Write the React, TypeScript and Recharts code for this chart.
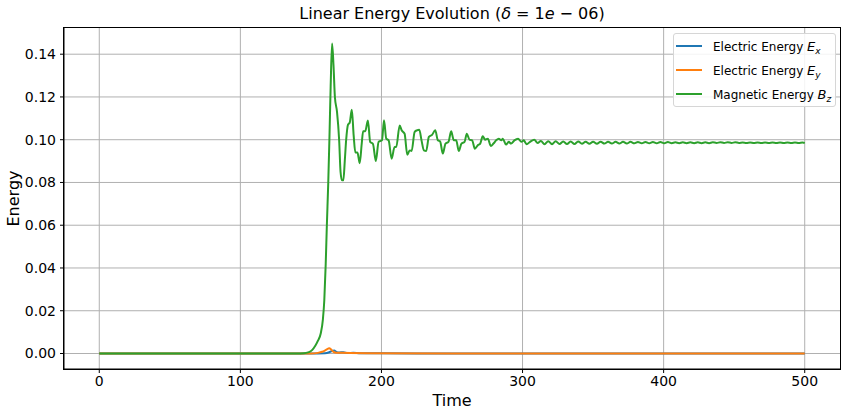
import { LineChart, Line, XAxis, YAxis, CartesianGrid, Label } from "recharts";

// Magnetic energy B_z (time, energy)
const bzTime = [
  0, 100, 140, 145, 148, 151, 153, 155, 157, 158.5, 159.5, 160.5, 161.3, 162.3, 163.1, 164, 165, 166, 167,
  168.5, 170, 171, 172, 173, 174, 175, 176.3, 177.5, 179, 180.3, 181.5, 183, 184.6, 186, 187, 188.5, 190.4,
  192, 194, 196, 198, 200.4, 201.8, 203.4, 205.1, 207.2, 209.3, 210.5, 212.9, 214.3, 216.4, 218.3, 220,
  221.4, 223.5, 225.1, 226.8, 228.4, 230.1, 231.7, 233.6, 236, 238.1, 240, 241.6, 243.5, 245.4, 247.5,
  249.4, 251.3, 253, 254.8, 256.7, 258.9, 260.5, 262.4, 264.3, 266.2, 268.3, 270, 271.8, 273.5, 275.4,
  277.5, 279.4, 281.3, 283.1, 285, 286, 288.3, 290.2, 291.9, 294.2, 296.8, 299.2, 300.8, 302.9, 305.3,
  308.3, 310.7, 313, 315.6, 318.2, 320.9, 323.5, 326.2, 328.8, 331.5, 334.1, 336.8, 339.4, 342.1, 344.7,
  347.4, 350, 352.7, 355.3, 358, 360.6, 363.3, 365.9, 368.6, 371.2, 373.9, 376.5, 379.2, 381.8, 384.5,
  387.1, 389.8, 392.4, 395.1, 397.7, 400.4, 403, 405.7, 408.3, 411, 413.6, 416.3, 418.9, 421.6, 424.2,
  426.9, 429.5, 432.2, 434.8, 437.5, 440.1, 442.8, 445.4, 448.1, 450.7, 453.4, 456, 458.7, 461.3, 464,
  466.6, 469.3, 471.9, 474.6, 477.2, 479.9, 482.5, 485.2, 487.8, 490.5, 493.1, 495.8, 498.4, 500,
];
const bzEnergy = [
  0, 0, 0, 0.0001, 0.0005, 0.0017, 0.0035, 0.006, 0.0095, 0.016, 0.025, 0.042, 0.06, 0.08, 0.1, 0.125,
  0.145, 0.135, 0.12, 0.113, 0.1, 0.085, 0.081, 0.081, 0.09, 0.1, 0.107, 0.108, 0.114, 0.102, 0.094, 0.094,
  0.089, 0.098, 0.104, 0.104, 0.109, 0.099, 0.098, 0.09, 0.099, 0.0997, 0.1091, 0.1005, 0.0997, 0.0911,
  0.0966, 0.0966, 0.1067, 0.1044, 0.1028, 0.093, 0.095, 0.0947, 0.1036, 0.1044, 0.1047, 0.0997, 0.095,
  0.0947, 0.1013, 0.1024, 0.1044, 0.0997, 0.0992, 0.0935, 0.0982, 0.099, 0.1039, 0.0997, 0.0997, 0.0947,
  0.0982, 0.099, 0.1028, 0.1, 0.0997, 0.0958, 0.0974, 0.0982, 0.1016, 0.1, 0.1005, 0.0971, 0.0982, 0.0997,
  0.1005, 0.0997, 0.1005, 0.0977, 0.099, 0.0982, 0.0997, 0.1005, 0.099, 0.0997, 0.0979, 0.099, 0.1,
  0.0985, 0.0994, 0.0979, 0.0993, 0.0979, 0.0993, 0.098, 0.0992, 0.098, 0.0992, 0.098, 0.0992, 0.0981,
  0.0991, 0.0981, 0.0991, 0.0981, 0.0991, 0.0982, 0.099, 0.0982, 0.099, 0.0982, 0.099, 0.0982, 0.099,
  0.0983, 0.0989, 0.0983, 0.0989, 0.0983, 0.0989, 0.0983, 0.0989, 0.0983, 0.0989, 0.0984, 0.0988, 0.0984,
  0.0988, 0.0984, 0.0988, 0.0984, 0.0988, 0.0984, 0.0988, 0.0984, 0.0988, 0.0985, 0.0988, 0.0985, 0.0988,
  0.0985, 0.0988, 0.0985, 0.0987, 0.0985, 0.0987, 0.0985, 0.0987, 0.0985, 0.0987, 0.0985, 0.0987, 0.0985,
  0.0987, 0.0985, 0.0987, 0.0985, 0.0987, 0.0985, 0.0987, 0.0985, 0.0987, 0.0986,
];

// Electric energy E_x
const exTime = [0, 150, 160, 163, 165, 166.5, 168, 170, 173, 176, 180, 185, 200, 250, 500];
const exEnergy = [0, 0, 0.0001, 0.0006, 0.0012, 0.0014, 0.0008, 0.0005, 0.0006, 0.0002, 0.0003, 0.0001, 0.0001, 0, 0];

// Electric energy E_y
const eyTime = [0, 150, 155, 158, 161, 163, 164.5, 166, 168, 172, 178, 190, 250, 500];
const eyEnergy = [0, 0, 0.0003, 0.0008, 0.0018, 0.0025, 0.0018, 0.0008, 0.0004, 0.0003, 0.0002, 0.0001, 0, 0];

const xTicks = [0, 100, 200, 300, 400, 500];
const yTicks = [0, 0.02, 0.04, 0.06, 0.08, 0.1, 0.12, 0.14];

const bzData = bzTime.map((t, i) => ({ t, v: bzEnergy[i] }));
const exData = exTime.map((t, i) => ({ t, v: exEnergy[i] }));
const eyData = eyTime.map((t, i) => ({ t, v: eyEnergy[i] }));

const FONT = "'DejaVu Sans', sans-serif";
const BLUE = "#1f77b4";
const ORANGE = "#ff7f0e";
const GREEN = "#2ca02c";

// plot box, matched to the reference
const PLOT = { left: 64, top: 28, width: 776, height: 341 };

const legendItems = [
  { color: BLUE, label: "Electric Energy ", sym: "E", sub: "x" },
  { color: ORANGE, label: "Electric Energy ", sym: "E", sub: "y" },
  { color: GREEN, label: "Magnetic Energy ", sym: "B", sub: "z" },
];

export default function App() {
  return (
    <div style={{ position: "absolute", left: 0, top: 0, width: 848, height: 416, background: "#fff", fontFamily: FONT }}>
      <LineChart
        width={848}
        height={416}
        margin={{ top: PLOT.top, right: 848 - PLOT.left - PLOT.width, bottom: 0, left: 0 }}
      >
        <CartesianGrid stroke="#b0b0b0" strokeWidth={1} horizontalValues={yTicks} verticalValues={xTicks} />
        <XAxis
          type="number"
          dataKey="t"
          domain={[-25, 525]}
          ticks={xTicks}
          allowDataOverflow
          height={416 - PLOT.top - PLOT.height}
          tickSize={4}
          tickMargin={3}
          stroke="#000"
          tick={{ fill: "#000", fontSize: 14, fontFamily: FONT }}
        >
          <Label value="Time" position="insideBottom" offset={10} style={{ fill: "#000", fontSize: 16, fontFamily: FONT }} />
        </XAxis>
        <YAxis
          type="number"
          domain={[-0.00725, 0.15225]}
          ticks={yTicks}
          allowDataOverflow
          width={PLOT.left}
          tickSize={4}
          tickMargin={4}
          stroke="#000"
          tickFormatter={(v: number) => v.toFixed(2)}
          tick={{ fill: "#000", fontSize: 14, fontFamily: FONT }}
        >
          <Label value="Energy" angle={-90} position="insideLeft" offset={13} style={{ fill: "#000", fontSize: 16, fontFamily: FONT, textAnchor: "middle" }} />
        </YAxis>
        <Line data={exData} dataKey="v" type="monotone" stroke={BLUE} strokeWidth={2} dot={false} isAnimationActive={false} />
        <Line data={eyData} dataKey="v" type="monotone" stroke={ORANGE} strokeWidth={2} dot={false} isAnimationActive={false} />
        <Line data={bzData} dataKey="v" type="monotone" stroke={GREEN} strokeWidth={2} dot={false} isAnimationActive={false} />
      </LineChart>

      {/* axes frame */}
      <div
        style={{
          position: "absolute",
          left: PLOT.left - 1,
          top: PLOT.top - 1,
          width: PLOT.width + 2,
          height: PLOT.height + 2,
          border: "1px solid #000",
          boxSizing: "border-box",
          pointerEvents: "none",
        }}
      />

      {/* title */}
      <div
        style={{
          position: "absolute",
          left: PLOT.left,
          width: PLOT.width,
          top: 4,
          textAlign: "center",
          fontSize: 16,
          color: "#000",
          lineHeight: "20px",
        }}
      >
        Linear Energy Evolution (<i>δ</i> = 1<i>e</i> − 06)
      </div>

      {/* legend */}
      <div
        style={{
          position: "absolute",
          left: 673,
          top: 33,
          width: 163,
          height: 74,
          boxSizing: "border-box",
          border: "1px solid #d6d6d6",
          borderRadius: 3,
          background: "rgba(255,255,255,0.85)",
          fontSize: 12,
          color: "#000",
        }}
      >
        {legendItems.map((it, i) => (
          <div key={it.sub} style={{ position: "absolute", left: 2, top: 3 + i * 24, height: 18, display: "flex", alignItems: "center" }}>
            <div style={{ width: 26, height: 2, background: it.color, marginRight: 11 }} />
            <span style={{ whiteSpace: "nowrap" }}>
              {it.label}
              <i style={{ fontSize: 13 }}>{it.sym}</i>
              <i style={{ fontSize: 9, position: "relative", top: 3 }}>{it.sub}</i>
            </span>
          </div>
        ))}
      </div>
    </div>
  );
}
